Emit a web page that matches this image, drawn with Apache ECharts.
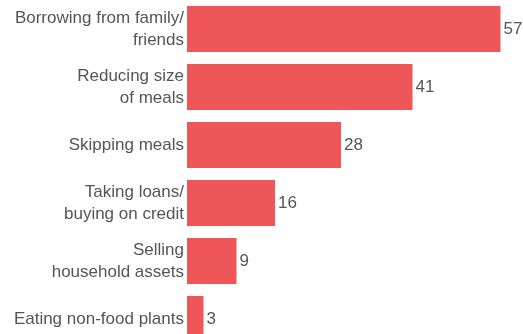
<!DOCTYPE html>
<html>
<head>
<meta charset="utf-8">
<script src="https://cdn.jsdelivr.net/npm/echarts@6/dist/echarts.min.js"></script>
<style>
  html, body { margin: 0; padding: 0; background: #fff; }
  #chart { width: 523px; height: 334px; }
</style>
</head>
<body>
<div id="chart"></div>
<script>
// Coping strategies, share of households (%)
const categories = [
  'Borrowing from family/\nfriends',
  'Reducing size\nof meals',
  'Skipping meals',
  'Taking loans/\nbuying on credit',
  'Selling\nhousehold assets',
  'Eating non-food plants'
];
const values = [57, 41, 28, 16, 9, 3];

const chart = echarts.init(document.getElementById('chart'), null, { renderer: 'canvas' });
const textColor = '#555555';
const fontFamily = '"Liberation Sans", Arial, sans-serif';

chart.setOption({
  animation: false,
  // the last band runs past the bottom edge of the canvas
  grid: {
    left: 187, width: 330, top: 0, height: 348,
    containLabel: false,
    outerBoundsMode: 'none'
  },
  xAxis: {
    type: 'value',
    min: 0,
    max: 60,
    show: false
  },
  yAxis: {
    type: 'category',
    inverse: true,
    data: categories,
    axisLine: { show: false },
    axisTick: { show: false },
    splitLine: { show: false },
    axisLabel: {
      margin: 3,
      color: textColor,
      fontSize: 17,
      lineHeight: 22,
      fontFamily: fontFamily,
      align: 'right'
    }
  },
  series: [{
    type: 'bar',
    data: values,
    barCategoryGap: '20.7%',
    itemStyle: { color: '#EE5658' },
    label: {
      show: true,
      position: 'right',
      distance: 3,
      color: textColor,
      fontSize: 17,
      fontFamily: fontFamily
    }
  }]
});
</script>
</body>
</html>
